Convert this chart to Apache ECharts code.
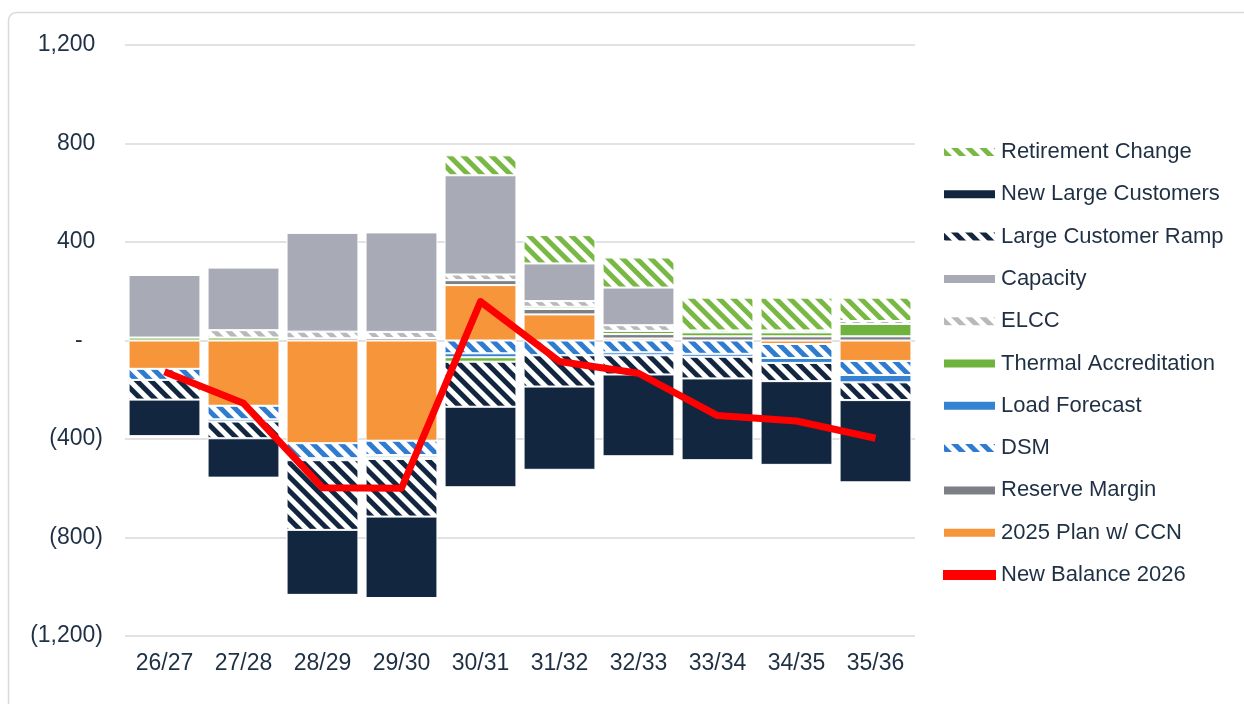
<!DOCTYPE html>
<html>
<head>
<meta charset="utf-8">
<script src="https://cdn.jsdelivr.net/npm/echarts@6/dist/echarts.min.js"></script>
<style>
  html, body { margin: 0; padding: 0; background: #ffffff; }
  #chart { width: 1244px; height: 704px; }
</style>
</head>
<body>
<div id="chart"></div>
<script>
// Fiscal-year categories
const categories = ['26/27', '27/28', '28/29', '29/30', '30/31', '31/32', '32/33', '33/34', '34/35', '35/36'];

// Stacked components (MW), in stacking order
const plan2025 = [-115, -265, -417, -407, 225, 106, 8, 0, -14, -83];
const reserveMargin = [0, 0, 9, 10, 20, 22, 18, 17, 17, 17];
const dsm = [-45, -55, -61, -58, -52, -60, -48, -54, -57, -57];
const loadForecast = [0, -9, -8, -9, -16, 0, -12, -12, -20, -30];
const thermalAccreditation = [12, 12, 0, -7, -18, 9, 13, 16, 16, 50];
const elcc = [0, 30, 27, 25, 23, 23, 23, 8, 8, 12];
const capacity = [254, 254, 401, 404, 403, 153, 153, 0, 0, 0];
const largeCustomerRamp = [-80, -68, -283, -234, -183, -127, -78, -88, -74, -72];
const newLargeCustomers = [-149, -160, -264, -331, -327, -338, -332, -332, -340, -334];
const retirementChange = [0, 0, 0, 0, 81, 115, 122, 133, 133, 95];

// Net position line
const newBalance2026 = [-127, -255, -598, -600, 158, -85, -133, -305, -327, -397];

// Y axis ticks
const yMin = -1200, yMax = 1200, yStep = 400;

const TEXT = '#1f3044';
const FONT = 'Liberation Sans, Arial, sans-serif';

// Diagonal stripes running from top-left to bottom-right
function hatch(color) {
  return {
    symbol: 'rect',
    symbolSize: 1,
    dashArrayX: [1, 0],
    dashArrayY: [5, 5],
    rotation: Math.PI / 4,
    color: color
  };
}

function barSeries(name, data, color, stripe) {
  const s = {
    name: name,
    type: 'bar',
    stack: 'total',
    data: data,
    barCategoryGap: '9%',
    itemStyle: {
      color: stripe ? '#ffffff' : color,
      borderColor: '#ffffff',
      borderWidth: 1
    },
    emphasis: { disabled: true }
  };
  if (stripe) s.itemStyle.decal = hatch(color);
  return s;
}

function fmt(v) {
  return Math.abs(v).toLocaleString('en-US');
}

const chart = echarts.init(document.getElementById('chart'), null, { renderer: 'canvas' });

chart.setOption({
  animation: false,
  backgroundColor: '#ffffff',
  graphic: [{
    type: 'rect',
    shape: { x: 8.5, y: 12.5, width: 1300, height: 760, r: 8 },
    style: { fill: 'none', stroke: '#d9d9d9', lineWidth: 1.5 },
    silent: true,
    z: -10
  }],
  grid: { left: 125, right: 329, top: 45, bottom: 68, containLabel: false },
  legend: {
    orient: 'vertical',
    left: 937,
    top: 136,
    itemWidth: 53,
    itemHeight: 10,
    itemGap: 20.3,
    icon: 'rect',
    textStyle: { color: TEXT, fontFamily: FONT, fontSize: 22, lineHeight: 22 },
    data: [
      'Retirement Change',
      'New Large Customers',
      'Large Customer Ramp',
      'Capacity',
      'ELCC',
      'Thermal Accreditation',
      'Load Forecast',
      'DSM',
      'Reserve Margin',
      '2025 Plan w/ CCN',
      'New Balance 2026'
    ]
  },
  xAxis: {
    type: 'category',
    data: categories,
    axisLine: { show: false },
    axisTick: { show: false },
    axisLabel: {
      color: TEXT,
      fontFamily: FONT,
      fontSize: 23,
      margin: 16
    }
  },
  yAxis: {
    type: 'value',
    min: yMin,
    max: yMax,
    interval: yStep,
    splitLine: { lineStyle: { color: '#d9d9d9', width: 1.5 } },
    axisLine: { show: false },
    axisTick: { show: false },
    axisLabel: {
      margin: 22,
      formatter: function (v) {
        if (v === 0) return '{v|-}{p|0)}';
        if (v > 0) return '{v|' + fmt(v) + '}{p|)}';
        return '{v|(' + fmt(v) + ')}';
      },
      rich: {
        v: { color: TEXT, fontFamily: FONT, fontSize: 23 },
        p: { color: 'rgba(0,0,0,0)', fontFamily: FONT, fontSize: 23 }
      }
    }
  },
  series: [
    barSeries('2025 Plan w/ CCN', plan2025, '#f7953b', false),
    barSeries('Reserve Margin', reserveMargin, '#7c7f86', false),
    barSeries('DSM', dsm, '#2e7bcf', true),
    barSeries('Load Forecast', loadForecast, '#3482d2', false),
    barSeries('Thermal Accreditation', thermalAccreditation, '#6fb23e', false),
    barSeries('ELCC', elcc, '#b8b9bd', true),
    barSeries('Capacity', capacity, '#a8abb5', false),
    barSeries('Large Customer Ramp', largeCustomerRamp, '#132640', true),
    barSeries('New Large Customers', newLargeCustomers, '#132640', false),
    barSeries('Retirement Change', retirementChange, '#79b845', true),
    {
      name: 'New Balance 2026',
      type: 'line',
      data: newBalance2026,
      symbol: 'none',
      z: 10,
      itemStyle: { color: '#ff0000' },
      lineStyle: { color: '#ff0000', width: 7, join: 'round' },
      emphasis: { disabled: true }
    }
  ]
});
</script>
</body>
</html>
